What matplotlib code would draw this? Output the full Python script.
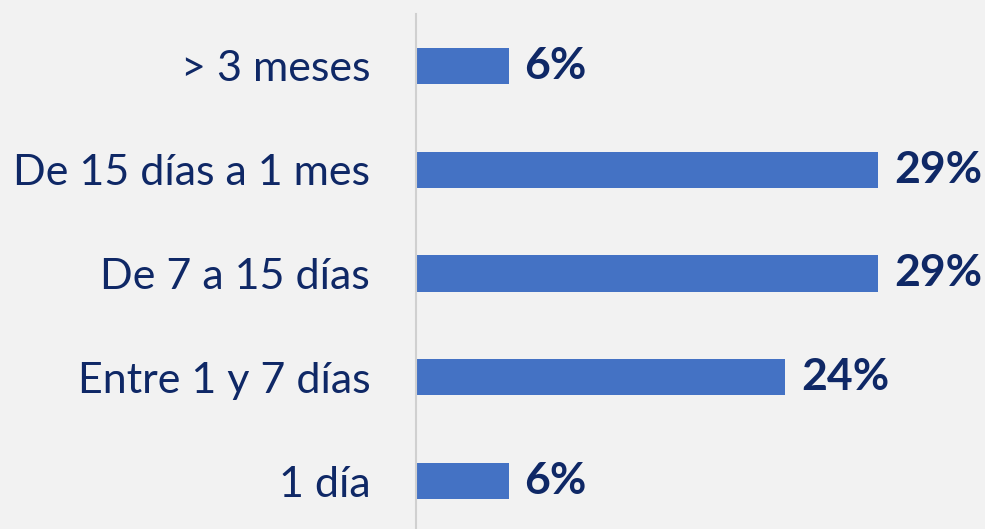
import matplotlib.pyplot as plt

categorias = ['1 día', 'Entre 1 y 7 días', 'De 7 a 15 días', 'De 15 días a 1 mes', '> 3 meses']
valores = [5.9, 23.5, 29.4, 29.4, 5.9]
etiquetas = ['6%', '24%', '29%', '29%', '6%']

fondo = '#f2f2f2'
azul = '#4472c4'
texto = '#0f2866'

plt.rcParams['font.family'] = ['Lato', 'DejaVu Sans']

fig = plt.figure(figsize=(9.85, 5.29), dpi=100, facecolor=fondo)
ax = fig.add_axes([416 / 985, -4 / 529, 569 / 985, 1 - 10 / 529], facecolor=fondo)

pos = range(len(categorias))
ax.barh(pos, valores, height=0.35, color=azul)

for y, v, t in zip(pos, valores, etiquetas):
    ax.text(v + 1.0, y, t, va='center', ha='left', fontsize=32,
            fontweight='bold', color=texto)

ax.set_ylim(-0.5, 4.5)
ax.set_xlim(0, 36.2)
ax.set_yticks(list(pos))
ax.set_yticklabels(categorias, fontsize=31, color=texto)
ax.tick_params(axis='y', length=0, pad=33)
ax.set_xticks([])

for lado in ['top', 'right', 'bottom']:
    ax.spines[lado].set_visible(False)
ax.spines['left'].set_color('#d0d0d0')
ax.spines['left'].set_linewidth(1.5)

fig.savefig('out.png', dpi=100, facecolor=fondo)
plt.close()
